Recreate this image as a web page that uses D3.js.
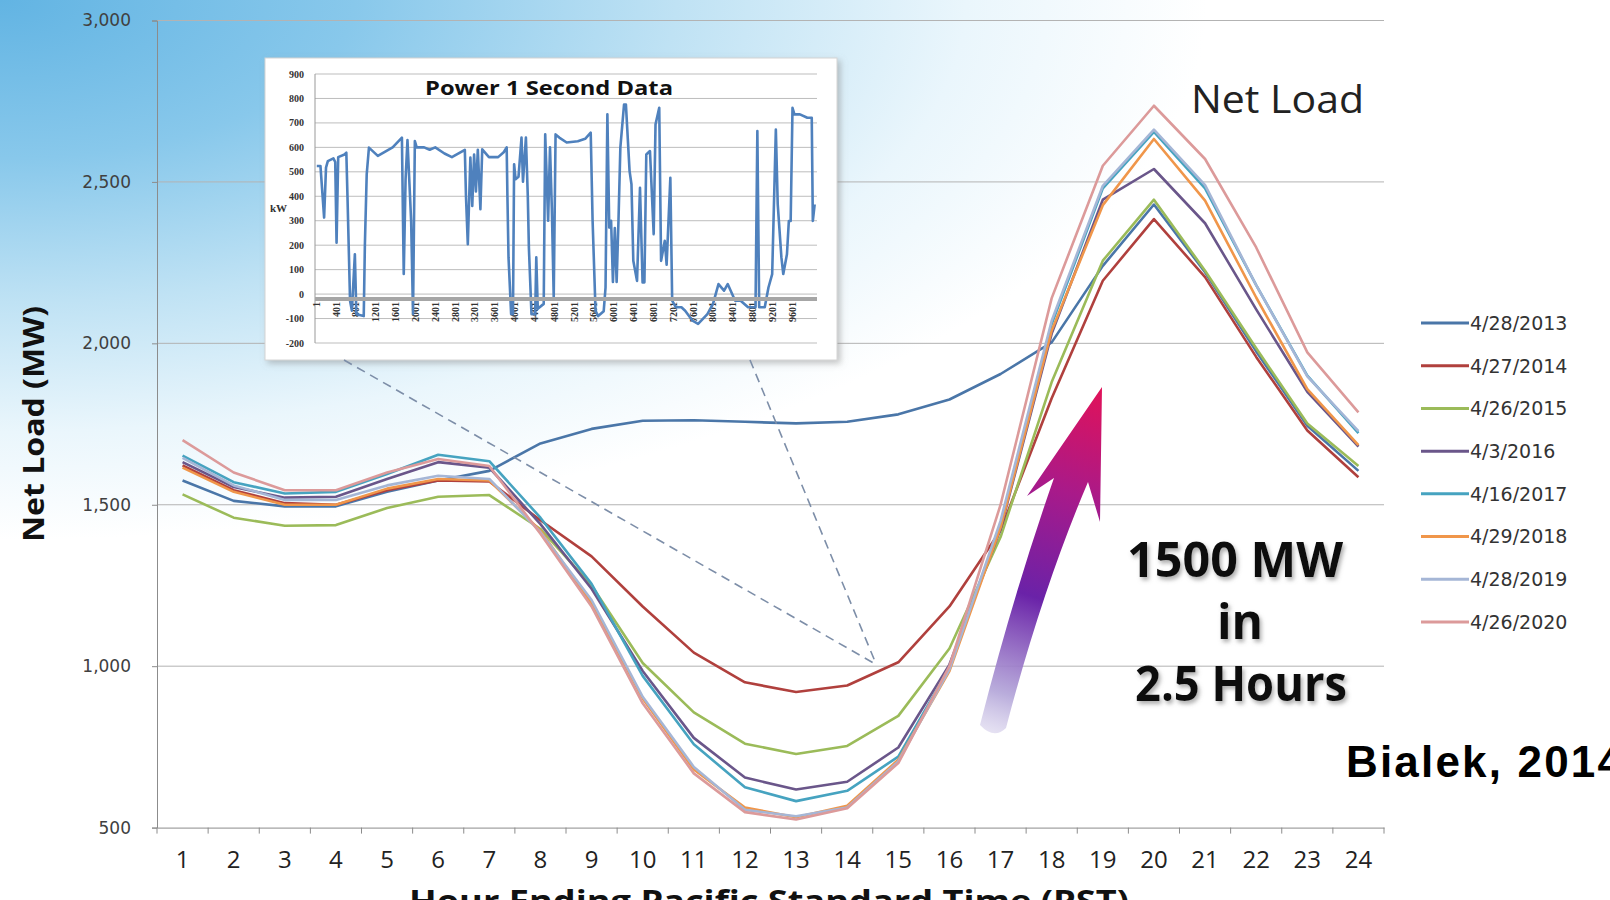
<!DOCTYPE html>
<html><head><meta charset="utf-8">
<script src="https://cdn.jsdelivr.net/npm/d3@7/dist/d3.min.js"></script>
<style>html,body{margin:0;padding:0;background:#fff;overflow:hidden}</style>
</head><body>
<svg id="c" width="1610" height="900"></svg>
<script>
// ---------------- DATA ----------------
const hours = [1,2,3,4,5,6,7,8,9,10,11,12,13,14,15,16,17,18,19,20,21,22,23,24];
const yTicks = [500,1000,1500,2000,2500,3000];
const seriesNames = ["4/28/2013","4/27/2014","4/26/2015","4/3/2016","4/16/2017","4/29/2018","4/28/2019","4/26/2020"];
const seriesColors = ["#4a76a8","#b0403d","#9bbb59","#6a568a","#46a3c0","#f0964a","#a5b6d6","#dc9a9a"];
const load2013 = [1575,1512,1495,1495,1540,1575,1605,1690,1735,1760,1762,1757,1752,1757,1780,1826,1905,2003,2240,2430,2220,1975,1745,1605];
const load2014 = [1622,1545,1505,1500,1545,1575,1572,1452,1340,1185,1042,950,920,940,1012,1185,1420,1830,2194,2385,2205,1958,1730,1585];
const load2015 = [1532,1460,1435,1437,1490,1525,1530,1425,1250,1010,857,760,728,753,846,1055,1400,1880,2256,2445,2225,1985,1752,1620];
const load2016 = [1632,1555,1522,1525,1580,1632,1615,1440,1240,985,778,655,618,642,748,1005,1425,2030,2445,2540,2372,2105,1850,1680];
const load2017 = [1652,1570,1535,1540,1595,1655,1635,1460,1255,970,758,625,582,614,720,995,1440,2060,2480,2655,2480,2180,1900,1722];
const load2018 = [1615,1540,1500,1500,1550,1580,1575,1420,1195,900,680,562,532,568,710,985,1430,2040,2428,2633,2442,2142,1858,1685];
const load2019 = [1645,1560,1515,1515,1560,1590,1580,1415,1205,905,688,555,535,562,705,990,1450,2070,2488,2662,2490,2180,1898,1728];
const load2020 = [1700,1600,1545,1545,1600,1642,1620,1410,1185,885,668,548,525,560,700,1000,1500,2140,2550,2736,2571,2297,1972,1786];
const allSeries = [load2013,load2014,load2015,load2016,load2017,load2018,load2019,load2020];

// inset "Power 1 Second Data": [second, kW]
const insetYTicks = [900,800,700,600,500,400,300,200,100,0,-100,-200];
const insetXLabels = [1,401,801,1201,1601,2001,2401,2801,3201,3601,4001,4401,4801,5201,5601,6001,6401,6801,7201,7601,8001,8401,8801,9201,9601];
const powerTrace = [[1,524],[75,524],[149,313],[187,517],[224,544],[336,555],[373,540],[400,210],[433,560],[560,571],[597,578],[620,400],[672,-27],[709,-68],[769,163],[799,-82],[948,-90],[971,200],[1008,490],[1053,599],[1232,565],[1531,600],[1718,640],[1740,300],[1755,82],[1792,470],[1830,630],[1904,300],[1942,-82],[1979,626],[2016,600],[2166,600],[2278,590],[2390,600],[2576,575],[2726,560],[2987,590],[3010,400],[3047,204],[3099,558],[3137,360],[3174,571],[3211,420],[3249,590],[3301,347],[3338,592],[3473,560],[3659,560],[3771,580],[3831,600],[3846,400],[3868,150],[3921,-82],[3958,-82],[3981,531],[4010,470],[4070,480],[4130,640],[4160,460],[4219,640],[4257,400],[4279,190],[4331,-82],[4406,-82],[4428,150],[4458,-60],[4578,-40],[4608,653],[4667,300],[4705,600],[4742,350],[4780,-14],[4817,653],[4892,640],[5041,620],[5265,625],[5414,635],[5526,660],[5564,300],[5623,-68],[5676,-90],[5788,-70],[5825,27],[5862,735],[5900,272],[5937,300],[5974,50],[6012,270],[6049,50],[6086,300],[6124,600],[6198,775],[6236,775],[6310,503],[6348,449],[6385,136],[6460,54],[6520,435],[6572,48],[6609,48],[6647,571],[6721,585],[6796,245],[6833,694],[6908,762],[6945,136],[7020,218],[7057,120],[7132,476],[7169,-27],[7244,-54],[7356,-54],[7431,-68],[7580,-109],[7692,-122],[7879,-82],[7991,-41],[8103,41],[8215,14],[8289,41],[8439,-27],[8551,-27],[8700,-54],[8850,-54],[8887,667],[8924,-54],[9036,-54],[9111,27],[9186,82],[9260,673],[9298,367],[9372,150],[9410,82],[9484,163],[9522,299],[9559,299],[9596,762],[9634,735],[9745,735],[9895,721],[9984,721],[10006,299],[10043,367]];

// ---------------- DRAW ----------------
const svg = d3.select('#c');
const defs = svg.append('defs');

const rg = defs.append('radialGradient').attr('id','bg')
  .attr('cx',0).attr('cy',0).attr('fx',0).attr('fy',0).attr('r',1)
  .attr('gradientTransform','scale(1,0.8)');
[[0,'#62b4e3'],[0.22,'#88c8eb'],[0.42,'#bfe2f4'],[0.6,'#eaf6fc'],[0.75,'#ffffff']]
  .forEach(s=>rg.append('stop').attr('offset',s[0]).attr('stop-color',s[1]));
svg.append('rect').attr('width',1610).attr('height',900).attr('fill','url(#bg)');

const shadow = defs.append('filter').attr('id','tshadow').attr('x','-10%').attr('y','-20%').attr('width','130%').attr('height','150%');
shadow.append('feDropShadow').attr('dx',2).attr('dy',3).attr('stdDeviation',2).attr('flood-color','#777').attr('flood-opacity',0.6);
const boxShadow = defs.append('filter').attr('id','bshadow').attr('x','-5%').attr('y','-5%').attr('width','115%').attr('height','115%');
boxShadow.append('feDropShadow').attr('dx',3).attr('dy',3).attr('stdDeviation',3).attr('flood-color','#888').attr('flood-opacity',0.5);

const x = d3.scaleBand().domain(hours).range([157,1384]);
const bw = x.bandwidth();
const y = d3.scaleLinear().domain([500,3000]).range([827.6,20.5]);

// gridlines
svg.append('g').selectAll('line').data(yTicks.filter(d=>d>500)).join('line')
  .attr('x1',157).attr('x2',1384).attr('y1',d=>y(d)).attr('y2',d=>y(d))
  .attr('stroke','#b3b3b3').attr('stroke-width',1);

// y axis
const yAxis = svg.append('g').attr('transform','translate(157,0)')
  .call(d3.axisLeft(y).tickValues(yTicks).tickFormat(d3.format(',')).tickSize(5).tickPadding(21));
yAxis.select('.domain').attr('stroke','#8c8c8c');
yAxis.selectAll('.tick line').attr('stroke','#8c8c8c');
yAxis.selectAll('.tick text').attr('font-family','DejaVu Sans, Verdana, sans-serif').attr('font-size',17).attr('fill','#404040');

// x axis
const xAxis = svg.append('g').attr('transform',`translate(0,${y(500)})`)
  .call(d3.axisBottom(x).tickSize(0).tickPadding(23));
xAxis.select('.domain').attr('stroke','#8c8c8c');
xAxis.selectAll('.tick text').attr('font-family','Open Sans, sans-serif').attr('font-size',24).attr('fill','#222');
svg.append('g').selectAll('line').data(hours.map(h=>x(h)).concat([x.range()[1]])).join('line')
  .attr('x1',d=>d).attr('x2',d=>d).attr('y1',y(500)).attr('y2',y(500)+6)
  .attr('stroke','#8c8c8c');

// axis titles
svg.append('text').attr('transform','translate(44,424) rotate(-90)').attr('text-anchor','middle')
  .attr('font-family','Open Sans, sans-serif').attr('font-weight','bold').attr('font-size',29)
  .attr('textLength',236).attr('lengthAdjust','spacingAndGlyphs').attr('fill','#111')
  .text('Net Load (MW)');
svg.append('text').attr('x',769).attr('y',912).attr('text-anchor','middle')
  .attr('font-family','Open Sans, sans-serif').attr('font-weight','bold').attr('font-size',30)
  .attr('textLength',720).attr('lengthAdjust','spacingAndGlyphs').attr('fill','#111')
  .text('Hour Ending Pacific Standard Time (PST)');

// lines
const line = d3.line().x((d,i)=>x(hours[i])+bw/2).y(d=>y(d));
svg.append('g').selectAll('path').data(allSeries).join('path')
  .attr('d',line).attr('fill','none')
  .attr('stroke',(d,i)=>seriesColors[i]).attr('stroke-width',2.6)
  .attr('stroke-linejoin','round');

// legend
const leg = svg.append('g');
const legY = d3.scalePoint().domain(seriesNames).range([323,622]);
leg.selectAll('line').data(seriesNames).join('line')
  .attr('x1',1421).attr('x2',1469).attr('y1',d=>legY(d)).attr('y2',d=>legY(d))
  .attr('stroke',(d,i)=>seriesColors[i]).attr('stroke-width',3);
leg.selectAll('text').data(seriesNames).join('text')
  .attr('x',1470).attr('y',d=>legY(d)).attr('dy','0.36em')
  .attr('font-family','DejaVu Sans, Verdana, sans-serif').attr('font-size',19).attr('fill','#333')
  .text(d=>d);

// ---------------- INSET ----------------
const ins = svg.append('g');
ins.append('rect').attr('x',265).attr('y',58).attr('width',572).attr('height',302)
  .attr('fill','#fff').attr('stroke','#d4d4d4').attr('filter','url(#bshadow)');
const ix = d3.scaleLinear().domain([-35,10090]).range([315,817]);
const iy = d3.scaleLinear().domain([-200,900]).range([343,74]);
ins.append('g').selectAll('line').data(insetYTicks).join('line')
  .attr('x1',315).attr('x2',817).attr('y1',d=>iy(d)).attr('y2',d=>iy(d))
  .attr('stroke','#bdbdbd').attr('stroke-width',1);
ins.append('line').attr('x1',315).attr('x2',315).attr('y1',iy(900)).attr('y2',iy(-200)).attr('stroke','#999');
ins.append('g').selectAll('text').data(insetYTicks).join('text')
  .attr('x',304).attr('y',d=>iy(d)).attr('dy','0.35em').attr('text-anchor','end')
  .attr('font-family','Liberation Serif, serif').attr('font-weight','bold').attr('font-size',10).attr('fill','#333')
  .text(d=>d);
ins.append('text').attr('x',270).attr('y',iy(350)).attr('dy','0.35em')
  .attr('font-family','Liberation Serif, serif').attr('font-weight','bold').attr('font-size',11).attr('fill','#333')
  .text('kW');
ins.append('g').selectAll('text').data(insetXLabels).join('text')
  .attr('transform',d=>`translate(${ix(d)+3},${iy(0)+8}) rotate(-90)`).attr('text-anchor','end')
  .attr('font-family','Liberation Serif, serif').attr('font-weight','bold').attr('font-size',10).attr('fill','#333')
  .text(d=>d);
ins.append('path').datum(powerTrace)
  .attr('d',d3.line().x(d=>ix(d[0])).y(d=>iy(d[1])))
  .attr('fill','none').attr('stroke','#4f81bd').attr('stroke-width',2.6).attr('stroke-linejoin','round');
ins.append('line').attr('x1',315).attr('x2',817).attr('y1',iy(0)+5).attr('y2',iy(0)+5)
  .attr('stroke','#a6a6a6').attr('stroke-width',4);
ins.append('text').attr('x',549).attr('y',95).attr('text-anchor','middle')
  .attr('font-family','Open Sans, sans-serif').attr('font-weight','bold').attr('font-size',19)
  .attr('textLength',248).attr('lengthAdjust','spacingAndGlyphs').attr('fill','#111')
  .text('Power 1 Second Data');

// dashed pointer lines to the 2014 curve
const tx = x(15)+bw/2-22, ty = y(1005);
svg.append('g').selectAll('line').data([344,750]).join('line')
  .attr('x1',d=>d).attr('y1',360).attr('x2',tx).attr('y2',ty)
  .attr('stroke','#7d8ea8').attr('stroke-width',1.6).attr('stroke-dasharray','9,6');

// ---------------- ARROW ----------------
const ag = defs.append('linearGradient').attr('id','arrowGrad').attr('gradientUnits','userSpaceOnUse')
  .attr('x1',990).attr('y1',735).attr('x2',1100).attr('y2',390);
[[0,'#d8d2ec',0.6],[0.12,'#b2a4d8',0.9],[0.4,'#6a22a8',1],[0.7,'#a81a8a',1],[1,'#e0125a',1]]
  .forEach(s=>ag.append('stop').attr('offset',s[0]).attr('stop-color',s[1]).attr('stop-opacity',s[2]));
svg.append('path')
  .attr('d','M1102,387 L1100,522 L1088,482 Q1042,590 1006,728 Q994,740 980,725 Q1014,592 1054,478 L1027,496 Z')
  .attr('fill','url(#arrowGrad)');

// ---------------- TEXT ANNOTATIONS ----------------
svg.append('text').attr('x',1191).attr('y',113)
  .attr('font-family','Open Sans, sans-serif').attr('font-size',38).attr('fill','#222')
  .attr('textLength',173).attr('lengthAdjust','spacingAndGlyphs').text('Net Load');
const ann = svg.append('g').attr('font-family','Open Sans, sans-serif').attr('font-weight','bold')
  .attr('font-size',48).attr('fill','#111').attr('text-anchor','middle').attr('filter','url(#tshadow)');
ann.append('text').attr('x',1235).attr('y',577).attr('textLength',216).attr('lengthAdjust','spacingAndGlyphs').text('1500 MW');
ann.append('text').attr('x',1240).attr('y',639).text('in');
ann.append('text').attr('x',1241).attr('y',701).attr('textLength',212).attr('lengthAdjust','spacingAndGlyphs').text('2.5 Hours');
svg.append('text').attr('x',1346).attr('y',777)
  .attr('font-family','Liberation Sans, Arial, sans-serif').attr('font-weight','bold').attr('font-size',44).attr('fill','#000')
  .attr('textLength',276).attr('lengthAdjust','spacing')
  .text('Bialek, 2014');
</script>
</body></html>
